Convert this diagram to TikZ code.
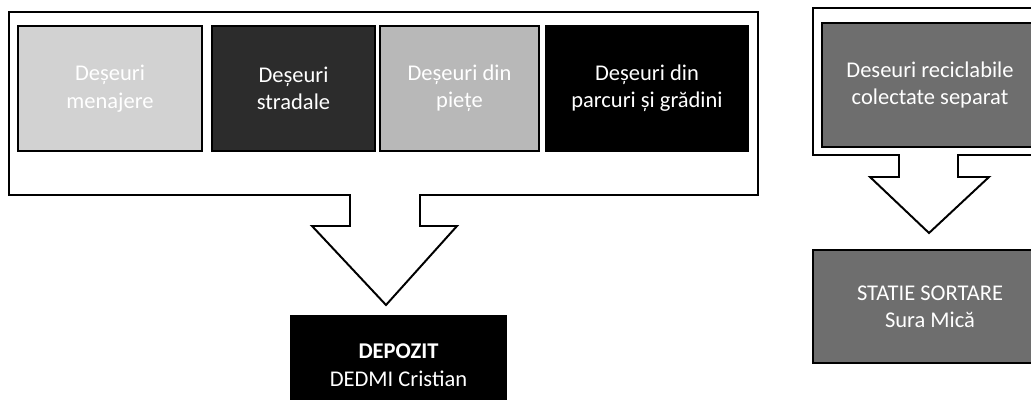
\documentclass[tikz,border=0pt]{standalone}
\usepackage{fontspec}
\setmainfont{Carlito}
\usepackage{xcolor}
\definecolor{palebin}{HTML}{D2D2D2}
\definecolor{darkbin}{HTML}{2C2C2C}
\definecolor{greybin}{HTML}{B8B8B8}
\definecolor{sortbin}{HTML}{6E6E6E}
\tikzset{
  bin/.style={draw=black, line width=0.9pt, text=white, align=center,
    inner sep=0pt, font=\fontsize{16pt}{19.5pt}\selectfont},
  frame/.style={draw=black, line width=1.4pt, fill=white, line join=miter},
}
\begin{document}
\begin{tikzpicture}[x=0.025cm,y=-0.025cm]
		\useasboundingbox (0,0) rectangle (1031,400);
		\clip (0,0) rectangle (1031,400);
		% frames with their block arrows
		\draw[frame] (350,195) -- (9,195) -- (9,12) -- (758,12) -- (758,195) -- (420,195)
			-- (420,226) -- (457,226) -- (386,305) -- (312,226) -- (350,226) -- cycle;
		\draw[frame] (899,155) -- (813,155) -- (813,8) -- (1046,8) -- (1046,155) -- (958,155)
			-- (958,177) -- (989,177) -- (929,233) -- (870,177) -- (899,177) -- cycle;
		% waste sources
		\node[bin, fill=palebin, minimum width=4.6cm, minimum height=3.125cm] (menajere) at (110,88.5) {Deșeuri\\menajere};
		\node[bin, fill=darkbin, minimum width=4.075cm, minimum height=3.125cm] (stradale) at (293.5,88.5) {Deșeuri\\stradale};
		\node[bin, fill=greybin, minimum width=3.975cm, minimum height=3.125cm] (piete) at (459.5,88.5) {Deșeuri din\\piețe};
		\node[bin, fill=black, minimum width=5.05cm, minimum height=3.125cm] (parcuri) at (647,88.5) {Deșeuri din\\parcuri și grădini};
		\node[bin, fill=sortbin, minimum width=5.4cm, minimum height=3.1cm] (reciclabile) at (930,85) {Deseuri reciclabile\\colectate separat};
		% destinations
		\node[bin, fill=black, minimum width=5.375cm, minimum height=2.45cm] (depozit) at (398.5,365) {\textbf{DEPOZIT}\\DEDMI Cristian};
		\node[bin, fill=sortbin, minimum width=5.85cm, minimum height=2.825cm] (sortare) at (930,306.5) {STATIE SORTARE\\Sura Mică};
	\end{tikzpicture}
\end{document}
